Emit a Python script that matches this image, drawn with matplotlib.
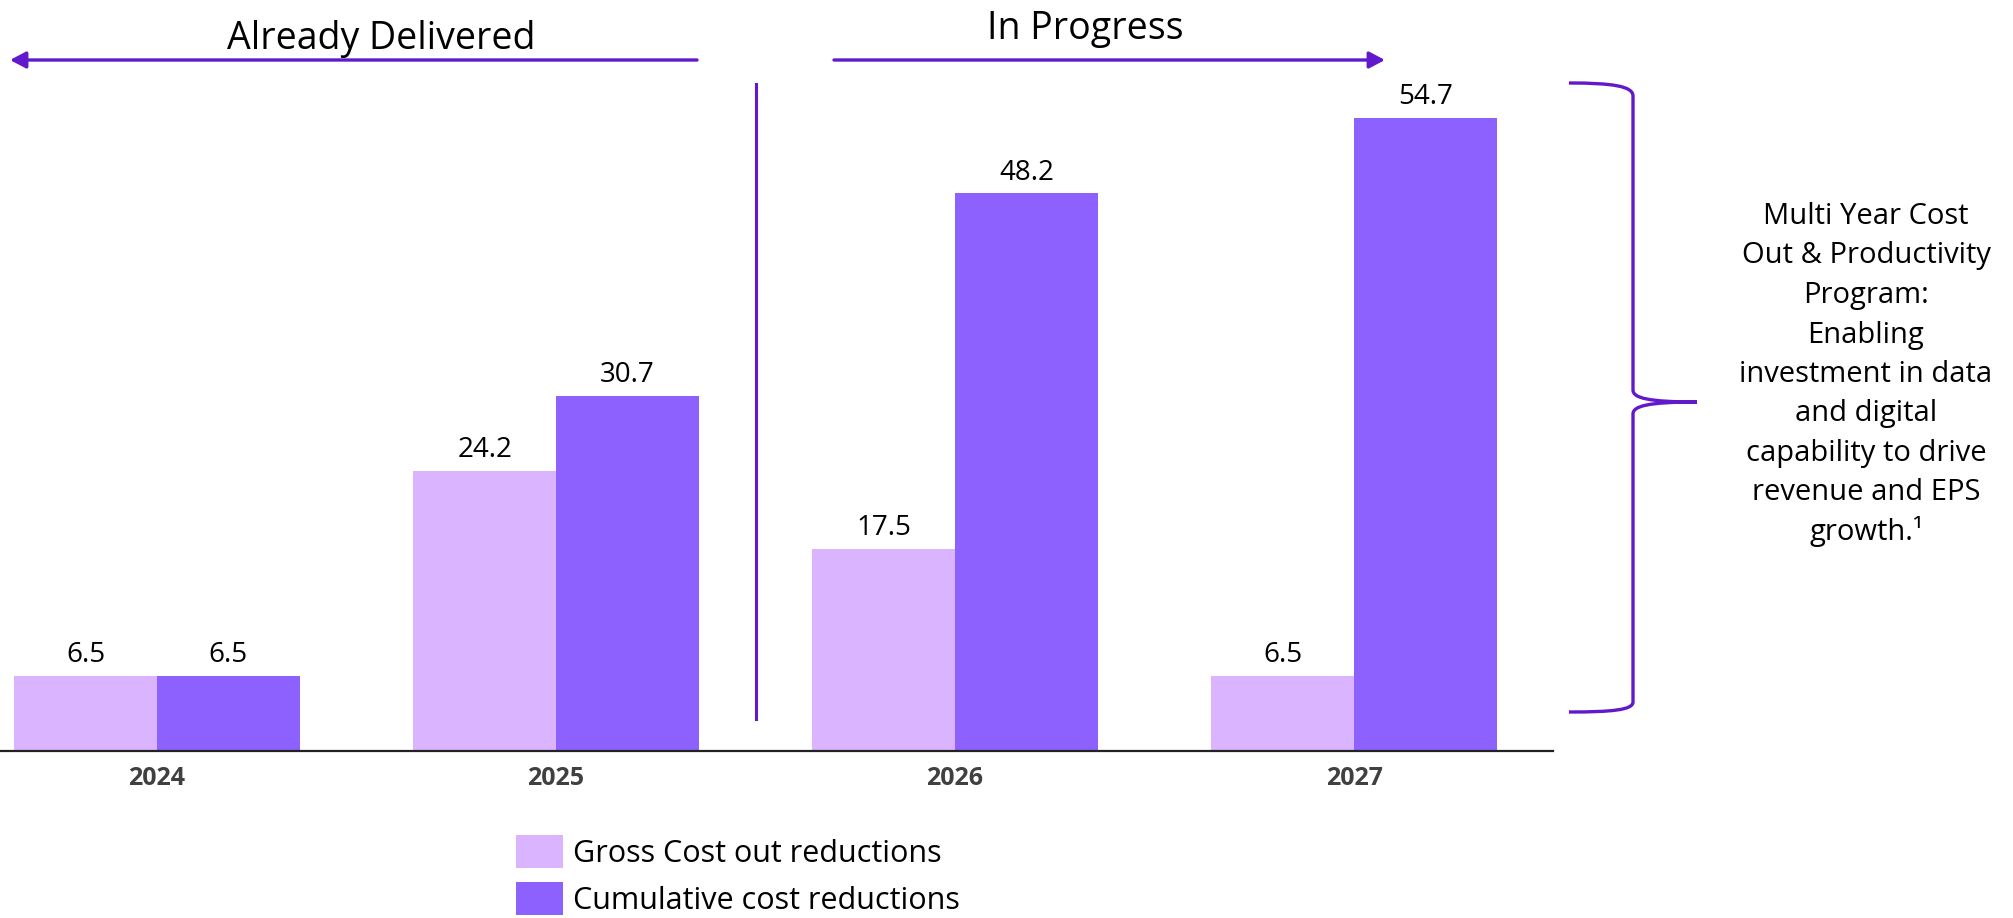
import matplotlib
matplotlib.use("Agg")
import matplotlib.pyplot as plt
import numpy as np
from matplotlib.path import Path
from matplotlib.patches import PathPatch, FancyArrowPatch
from matplotlib.lines import Line2D
import matplotlib.transforms as mtransforms

# ---- data ----
years = ["2024", "2025", "2026", "2027"]
gross = [6.5, 24.2, 17.5, 6.5]
cumulative = [6.5, 30.7, 48.2, 54.7]
series_names = ["Gross Cost out reductions", "Cumulative cost reductions"]
left_header = "Already Delivered"
right_header = "In Progress"
note_lines = ["Multi Year Cost", "Out & Productivity", "Program:", "Enabling",
              "investment in data", "and digital", "capability to drive",
              "revenue and EPS", "growth.\u00b9"]

# ---- style ----
FONT = ["Open Sans", "DejaVu Sans"]
plt.rcParams['font.family'] = FONT
LIGHT = "#DAB4FE"
DARK = "#8C61FE"
LINE = "#6119CB"

W, H = 2013, 918
fig = plt.figure(figsize=(W / 100, H / 100), dpi=100)
T = mtransforms.Affine2D().scale(1 / W, -1 / H).translate(0, 1) + fig.transFigure

ax_left, ax_right, ax_bottom, ax_top = 0, 1553, 751, 57
ax = fig.add_axes([ax_left / W, 1 - ax_bottom / H, (ax_right - ax_left) / W,
                   (ax_bottom - ax_top) / H])

x = np.arange(len(years))
bw = 0.3576
b1 = ax.bar(x - bw / 2, gross, bw, color=LIGHT, label=series_names[0])
b2 = ax.bar(x + bw / 2, cumulative, bw, color=DARK, label=series_names[1])
ax.bar_label(b1, labels=[f"{v:.1f}" for v in gross], padding=5, fontsize=20, color="black")
ax.bar_label(b2, labels=[f"{v:.1f}" for v in cumulative], padding=5, fontsize=20, color="black")

ax.set_xlim(-157 / 399, (1553 - 157) / 399)
ax.set_ylim(0, 60)
ax.set_xticks(x, years)
ax.tick_params(axis='x', length=0, pad=11, labelsize=18, labelcolor="#404040")
for t in ax.get_xticklabels():
    t.set_fontweight("bold")
ax.set_yticks([])
for s in ["left", "right", "top"]:
    ax.spines[s].set_visible(False)
ax.spines["bottom"].set_color("#222222")
ax.spines["bottom"].set_linewidth(1.6)
ax.set_facecolor("none")

# ---- headers & arrows ----
fig.text(381, 49, left_header, transform=T, ha="center", va="baseline", fontsize=27, color="black")
fig.text(1085, 39, right_header, transform=T, ha="center", va="baseline", fontsize=27, color="black")

arrow_kw = dict(arrowstyle="-|>,head_length=9.5,head_width=5", mutation_scale=1,
                color=LINE, linewidth=2.4, transform=T, shrinkA=0, shrinkB=0)
fig.add_artist(FancyArrowPatch((697, 60), (10, 60), **arrow_kw))
fig.add_artist(FancyArrowPatch((834, 60), (1385, 60), **arrow_kw))

# divider
fig.add_artist(Line2D([756, 756], [84, 719], transform=T, color=LINE, linewidth=2.2))

# ---- brace ----
verts = [
    (1569, 83), (1612, 83), (1633, 86), (1633, 96),
    (1633, 390),
    (1633, 398), (1648, 402), (1697, 402),
    (1648, 402), (1633, 406), (1633, 414),
    (1633, 702),
    (1633, 710), (1612, 712), (1569, 712),
]
codes = [Path.MOVETO, Path.CURVE4, Path.CURVE4, Path.CURVE4,
         Path.LINETO,
         Path.CURVE4, Path.CURVE4, Path.CURVE4,
         Path.CURVE4, Path.CURVE4, Path.CURVE4,
         Path.LINETO,
         Path.CURVE4, Path.CURVE4, Path.CURVE4]
fig.add_artist(PathPatch(Path(verts, codes), transform=T, facecolor="none",
                         edgecolor=LINE, linewidth=2.4, capstyle="butt"))

# ---- note text ----
for i, line in enumerate(note_lines):
    fig.text(1866, 224 + 39.5 * i, line, transform=T, ha="center", va="baseline",
             fontsize=21, color="black")

# ---- legend ----
ax.legend(handles=[b1, b2], loc="upper left", bbox_to_anchor=(516 / W, 1 - 835 / H),
          bbox_transform=fig.transFigure, frameon=False, fontsize=22,
          borderaxespad=0, borderpad=0, handlelength=1.54, handleheight=1.3,
          handletextpad=0.33, labelspacing=0.42)

fig.savefig("out.png", dpi=100)
